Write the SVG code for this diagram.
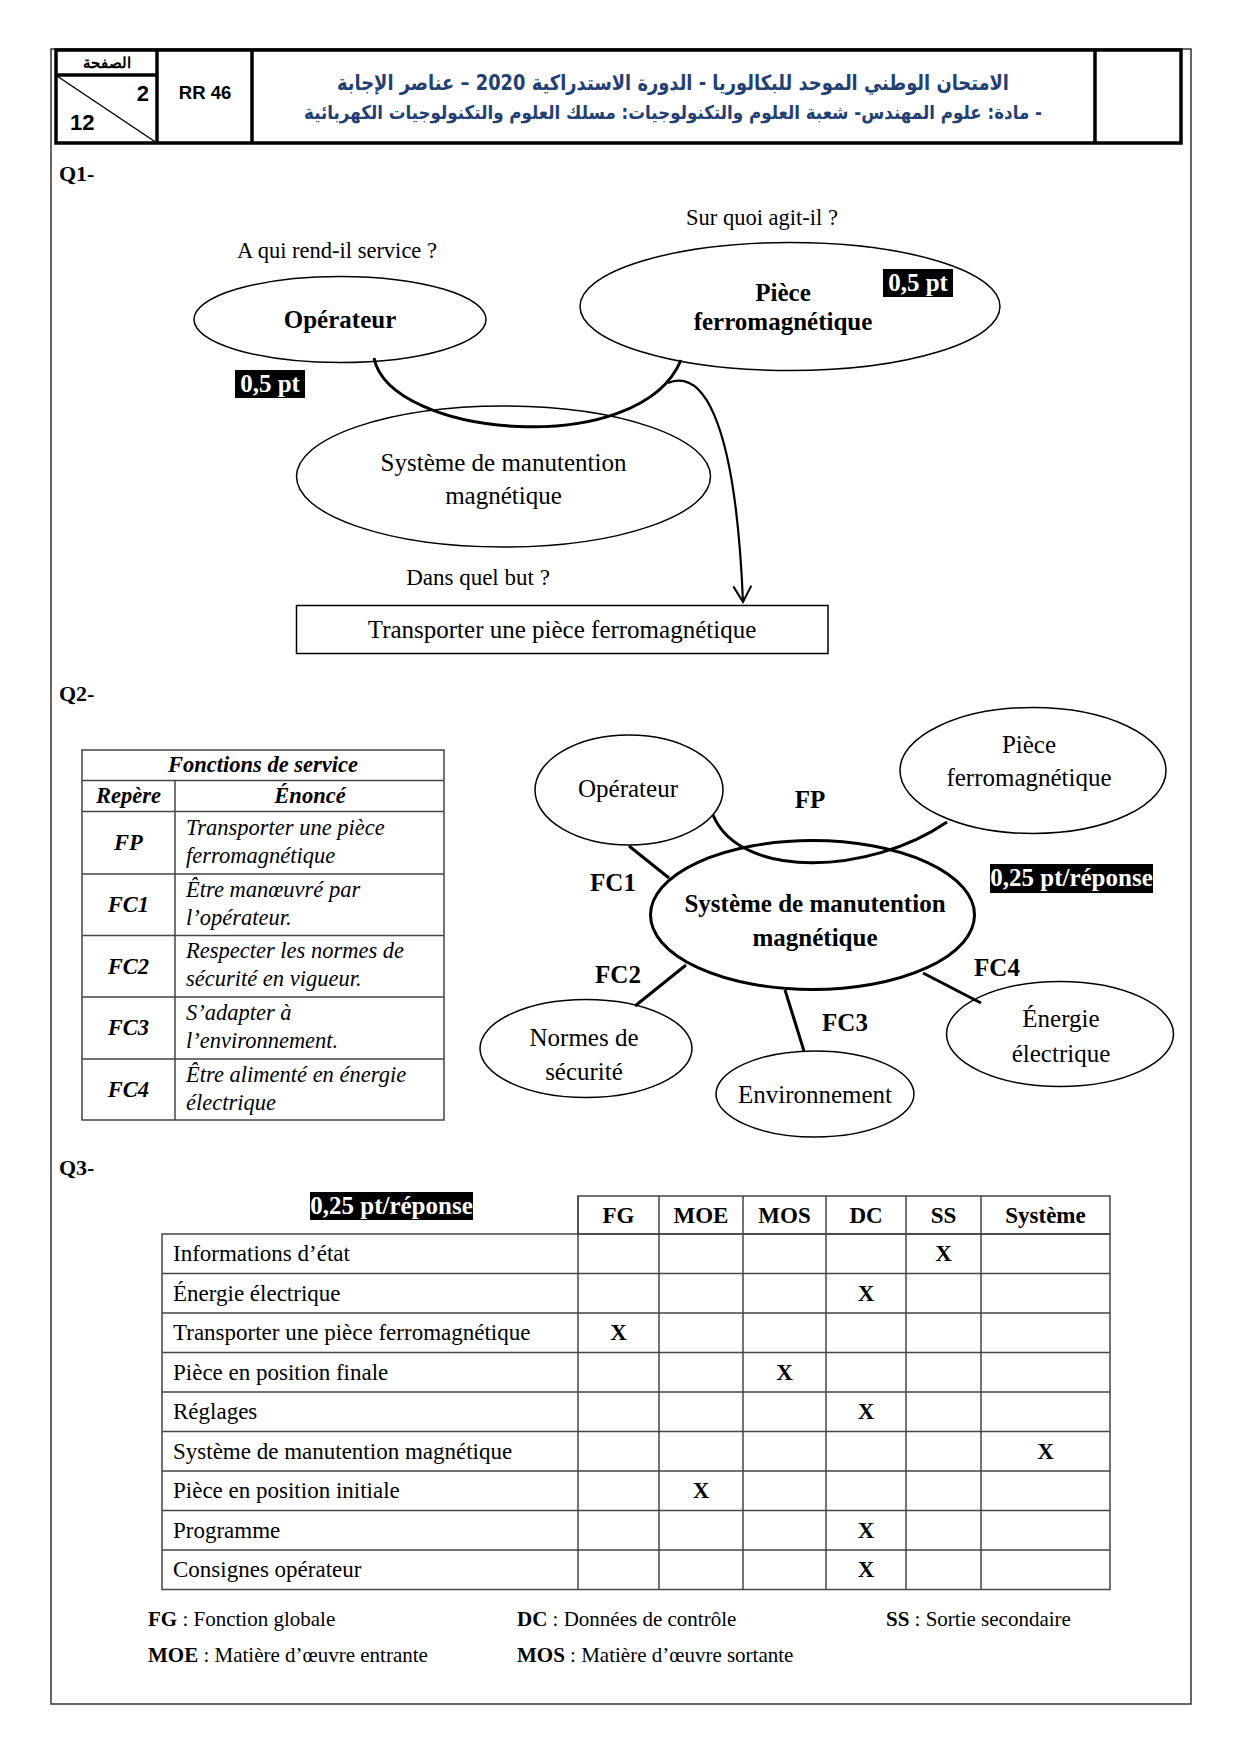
<svg xmlns="http://www.w3.org/2000/svg" width="1241" height="1755" viewBox="0 0 1241 1755">
<defs>
<style>
.s{font-family:"Liberation Serif","Times New Roman",serif;fill:#000}
.b{font-weight:bold}
.i{font-style:italic}
.m{text-anchor:middle}
.w{fill:#fff}
.ar{font-family:"DejaVu Sans","Noto Sans",sans-serif;font-weight:bold;fill:#243f73;text-anchor:middle}
.hd{font-family:"Liberation Sans",Arial,sans-serif;font-weight:bold;fill:#000}
.el{fill:#fff;stroke:#000;stroke-width:1.5}
.elb{fill:#fff;stroke:#000;stroke-width:3}
.ln{stroke:#000;stroke-width:3;fill:none}
.tb{stroke:#444;stroke-width:1.5;fill:none}
.bk{fill:#000}
</style>
<marker id="arr" viewBox="0 0 20 20" refX="18" refY="10" markerWidth="20" markerHeight="20" markerUnits="userSpaceOnUse" orient="auto">
<polyline points="2,1 18,10 2,19" fill="none" stroke="#000" stroke-width="2"/>
</marker>
</defs>
<rect x="0" y="0" width="1241" height="1755" fill="#fff"/>
<!-- page border -->
<rect x="51" y="49" width="1140" height="1655" fill="none" stroke="#333" stroke-width="1.5"/>
<!-- header -->
<g id="header">
<rect x="56" y="50" width="1125" height="93" fill="none" stroke="#000" stroke-width="3.5"/>
<line x1="157" y1="50" x2="157" y2="143" stroke="#000" stroke-width="3.5"/>
<line x1="252" y1="50" x2="252" y2="143" stroke="#000" stroke-width="3.5"/>
<line x1="1095" y1="50" x2="1095" y2="143" stroke="#000" stroke-width="3.5"/>
<line x1="56" y1="75" x2="157" y2="75" stroke="#000" stroke-width="3.5"/>
<line x1="57" y1="76" x2="157" y2="143" stroke="#000" stroke-width="1.5"/>
<text class="hd" x="107" y="68" font-size="15" text-anchor="middle" font-family="DejaVu Sans">الصفحة</text>
<text class="hd" x="149" y="101" font-size="22" text-anchor="end">2</text>
<text class="hd" x="70" y="130" font-size="22">12</text>
<text class="hd" x="205" y="99" font-size="18.5" text-anchor="middle">RR 46</text>
<text class="ar" x="673" y="90" font-size="21" textLength="672" lengthAdjust="spacingAndGlyphs" direction="rtl">الامتحان الوطني الموحد للبكالوريا - الدورة الاستدراكية 2020 – عناصر الإجابة</text>
<text class="ar" x="673" y="119" font-size="19" textLength="738" lengthAdjust="spacingAndGlyphs" direction="rtl">- مادة: علوم المهندس- شعبة العلوم والتكنولوجيات: مسلك العلوم والتكنولوجيات الكهربائية</text>
</g>

<!-- Q1 -->
<text class="s b" x="59" y="181" font-size="22">Q1-</text>
<g id="q1-questions">
<text class="s m" x="762" y="225" font-size="22.5">Sur quoi agit-il ?</text>
<text class="s m" x="337" y="258" font-size="22.5">A qui rend-il service ?</text>
<text class="s m" x="478" y="585" font-size="23">Dans quel but ?</text>
</g>
<g id="q1-operateur">
<ellipse class="el" cx="340" cy="319.5" rx="146" ry="43"/>
<text class="s b m" x="340" y="328" font-size="25">Opérateur</text>
</g>
<g id="q1-piece">
<ellipse class="el" cx="790" cy="306.5" rx="210" ry="64"/>
<text class="s b m" x="783" y="301" font-size="25">Pièce</text>
<text class="s b m" x="783" y="330" font-size="25">ferromagnétique</text>
<rect class="bk" x="883" y="269" width="70" height="28"/>
<text class="s b m w" x="918" y="291" font-size="25">0,5 pt</text>
</g>
<g id="q1-note">
<rect class="bk" x="235" y="370" width="70" height="28"/>
<text class="s b m w" x="270" y="392" font-size="25">0,5 pt</text>
</g>
<g id="q1-systeme">
<ellipse class="el" cx="503.5" cy="476.5" rx="207" ry="70.5"/>
<text class="s m" x="503.5" y="471" font-size="25">Système de manutention</text>
<text class="s m" x="503.5" y="504" font-size="25">magnétique</text>
</g>
<g id="q1-but">
<rect x="296.5" y="605.5" width="531.5" height="48" fill="#fff" stroke="#000" stroke-width="1.5"/>
<text class="s m" x="562" y="638" font-size="25">Transporter une pièce ferromagnétique</text>
</g>
<g id="q1-connectors">
<path class="ln" d="M374,358 C390,438 640,460 681,360"/>
<path d="M668,383 C700,370 735,410 743,602" fill="none" stroke="#000" stroke-width="2.2" marker-end="url(#arr)"/>
</g>

<!-- Q2 -->
<text class="s b" x="59" y="701" font-size="22">Q2-</text>
<g id="q2-table">
<rect class="tb" x="82" y="750" width="362" height="370"/>
<line class="tb" x1="82" y1="780.5" x2="444" y2="780.5"/>
<line class="tb" x1="82" y1="811.5" x2="444" y2="811.5"/>
<line class="tb" x1="82" y1="874" x2="444" y2="874"/>
<line class="tb" x1="82" y1="935.5" x2="444" y2="935.5"/>
<line class="tb" x1="82" y1="997" x2="444" y2="997"/>
<line class="tb" x1="82" y1="1059" x2="444" y2="1059"/>
<line class="tb" x1="175" y1="780.5" x2="175" y2="1120"/>
<text class="s b i m" x="263" y="772" font-size="22.5">Fonctions de service</text>
<text class="s b i m" x="128.5" y="803" font-size="22.5">Repère</text>
<text class="s b i m" x="310" y="803" font-size="22.5">Énoncé</text>
<text class="s b i m" x="128.5" y="850" font-size="22.5">FP</text>
<text class="s i" x="186" y="835" font-size="22.5">Transporter une pièce</text>
<text class="s i" x="186" y="863" font-size="22.5">ferromagnétique</text>
<text class="s b i m" x="128.5" y="912" font-size="22.5">FC1</text>
<text class="s i" x="186" y="897" font-size="22.5">Être manœuvré par</text>
<text class="s i" x="186" y="925" font-size="22.5">l’opérateur.</text>
<text class="s b i m" x="128.5" y="974" font-size="22.5">FC2</text>
<text class="s i" x="186" y="958" font-size="22.5">Respecter les normes de</text>
<text class="s i" x="186" y="986" font-size="22.5">sécurité en vigueur.</text>
<text class="s b i m" x="128.5" y="1035" font-size="22.5">FC3</text>
<text class="s i" x="186" y="1020" font-size="22.5">S’adapter à</text>
<text class="s i" x="186" y="1048" font-size="22.5">l’environnement.</text>
<text class="s b i m" x="128.5" y="1097" font-size="22.5">FC4</text>
<text class="s i" x="186" y="1082" font-size="22.5">Être alimenté en énergie</text>
<text class="s i" x="186" y="1110" font-size="22.5">électrique</text>
</g>

<g id="q2-operateur">
<ellipse class="el" cx="629" cy="790" rx="94" ry="55"/>
<text class="s m" x="628" y="797" font-size="25">Opérateur</text>
</g>
<g id="q2-piece">
<ellipse class="el" cx="1033" cy="770.5" rx="133" ry="63"/>
<text class="s m" x="1029" y="753" font-size="25">Pièce</text>
<text class="s m" x="1029" y="786" font-size="25">ferromagnétique</text>
</g>
<g id="q2-normes">
<ellipse class="el" cx="586" cy="1048.5" rx="106" ry="49"/>
<text class="s m" x="584" y="1046" font-size="25">Normes de</text>
<text class="s m" x="584" y="1080" font-size="25">sécurité</text>
</g>
<g id="q2-env">
<ellipse class="el" cx="815" cy="1094" rx="99" ry="43"/>
<text class="s m" x="815" y="1103" font-size="25">Environnement</text>
</g>
<g id="q2-energie">
<ellipse class="el" cx="1060" cy="1034" rx="113.5" ry="52.5"/>
<text class="s m" x="1061" y="1027" font-size="25">Énergie</text>
<text class="s m" x="1061" y="1062" font-size="25">électrique</text>
</g>
<g id="q2-connectors">
<line class="ln" x1="629" y1="846" x2="669" y2="878"/>
<line class="ln" x1="686" y1="965" x2="635" y2="1006"/>
<line class="ln" x1="785" y1="990" x2="804" y2="1051"/>
<line class="ln" x1="923" y1="973" x2="981" y2="1003"/>
</g>
<g id="q2-systeme">
<ellipse class="elb" cx="812.5" cy="915" rx="162" ry="74.5"/>
<text class="s b m" x="815" y="912" font-size="25">Système de manutention</text>
<text class="s b m" x="815" y="946" font-size="25">magnétique</text>
</g>
<g id="q2-fp">
<path class="ln" d="M713,815 C740,880 870,875 947,822"/>
</g>
<g id="q2-labels">
<text class="s b m" x="810" y="808" font-size="25">FP</text>
<text class="s b m" x="613" y="891" font-size="25">FC1</text>
<text class="s b m" x="618" y="983" font-size="25">FC2</text>
<text class="s b m" x="845" y="1031" font-size="25">FC3</text>
<text class="s b m" x="997" y="976" font-size="25">FC4</text>
<rect class="bk" x="990" y="864" width="163" height="29"/>
<text class="s b m w" x="1071.5" y="886" font-size="25">0,25 pt/réponse</text>
</g>

<!-- Q3 -->
<text class="s b" x="59" y="1175" font-size="22">Q3-</text>
<g id="q3-note">
<rect class="bk" x="310" y="1192" width="163" height="28"/>
<text class="s b m w" x="391.5" y="1214" font-size="25">0,25 pt/réponse</text>
</g>
<g id="q3-table">
<rect class="tb" x="578" y="1196" width="532" height="38"/>
<rect class="tb" x="162" y="1234" width="948" height="355.5"/>
<line class="tb" x1="162" y1="1273.5" x2="1110" y2="1273.5"/>
<line class="tb" x1="162" y1="1313" x2="1110" y2="1313"/>
<line class="tb" x1="162" y1="1352.5" x2="1110" y2="1352.5"/>
<line class="tb" x1="162" y1="1392" x2="1110" y2="1392"/>
<line class="tb" x1="162" y1="1431.5" x2="1110" y2="1431.5"/>
<line class="tb" x1="162" y1="1471" x2="1110" y2="1471"/>
<line class="tb" x1="162" y1="1510.5" x2="1110" y2="1510.5"/>
<line class="tb" x1="162" y1="1550" x2="1110" y2="1550"/>
<line class="tb" x1="578" y1="1196" x2="578" y2="1589.5"/>
<line class="tb" x1="659" y1="1196" x2="659" y2="1589.5"/>
<line class="tb" x1="743" y1="1196" x2="743" y2="1589.5"/>
<line class="tb" x1="826" y1="1196" x2="826" y2="1589.5"/>
<line class="tb" x1="906" y1="1196" x2="906" y2="1589.5"/>
<line class="tb" x1="981" y1="1196" x2="981" y2="1589.5"/>
<text class="s b m" x="618.5" y="1223" font-size="23">FG</text>
<text class="s b m" x="701" y="1223" font-size="23">MOE</text>
<text class="s b m" x="784.5" y="1223" font-size="23">MOS</text>
<text class="s b m" x="866" y="1223" font-size="23">DC</text>
<text class="s b m" x="943.5" y="1223" font-size="23">SS</text>
<text class="s b m" x="1045.5" y="1223" font-size="23">Système</text>
<text class="s" x="173" y="1261" font-size="23">Informations d’état</text>
<text class="s" x="173" y="1301" font-size="23">Énergie électrique</text>
<text class="s" x="173" y="1340" font-size="23">Transporter une pièce ferromagnétique</text>
<text class="s" x="173" y="1380" font-size="23">Pièce en position finale</text>
<text class="s" x="173" y="1419" font-size="23">Réglages</text>
<text class="s" x="173" y="1459" font-size="23">Système de manutention magnétique</text>
<text class="s" x="173" y="1498" font-size="23">Pièce en position initiale</text>
<text class="s" x="173" y="1538" font-size="23">Programme</text>
<text class="s" x="173" y="1577" font-size="23">Consignes opérateur</text>
<text class="s b m" x="943.5" y="1261" font-size="23">X</text>
<text class="s b m" x="866" y="1301" font-size="23">X</text>
<text class="s b m" x="618.5" y="1340" font-size="23">X</text>
<text class="s b m" x="784.5" y="1380" font-size="23">X</text>
<text class="s b m" x="866" y="1419" font-size="23">X</text>
<text class="s b m" x="1045.5" y="1459" font-size="23">X</text>
<text class="s b m" x="701" y="1498" font-size="23">X</text>
<text class="s b m" x="866" y="1538" font-size="23">X</text>
<text class="s b m" x="866" y="1577" font-size="23">X</text>
</g>
<g id="legend">
<text class="s" x="148" y="1626" font-size="21"><tspan class="b">FG</tspan> : Fonction globale</text>
<text class="s" x="517" y="1626" font-size="21"><tspan class="b">DC</tspan> : Données de contrôle</text>
<text class="s" x="886" y="1626" font-size="21"><tspan class="b">SS</tspan> : Sortie secondaire</text>
<text class="s" x="148" y="1662" font-size="21"><tspan class="b">MOE</tspan> : Matière d’œuvre entrante</text>
<text class="s" x="517" y="1662" font-size="21"><tspan class="b">MOS</tspan> : Matière d’œuvre sortante</text>
</g>
</svg>
